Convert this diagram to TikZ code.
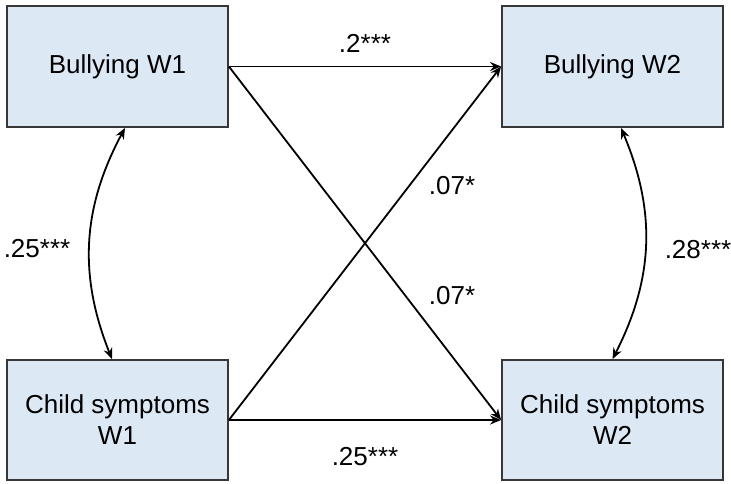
\documentclass[tikz,border=0pt]{standalone}
\usepackage{fontspec}
\setmainfont{Liberation Sans}
\usetikzlibrary{arrows.meta}
\definecolor{boxblue}{RGB}{221,232,245}
\definecolor{boxline}{RGB}{55,55,55}

\begin{document}
\begin{tikzpicture}[x = 1pt, y = -1pt,
  var/.style = {draw = boxline, line width = 1.8pt, fill = boxblue, minimum width = 221pt, minimum height = 121pt, align = center, inner sep = 0pt, font = \fontsize{26}{31}\selectfont},
  coef/.style = {inner sep = 0pt, font = \fontsize{26}{31}\selectfont},
  effect/.style = {line width = 1.8pt, -{Stealth[length = 11pt, width = 9pt]}},
  covar/.style = {line width = 1.8pt, {Stealth[length = 11pt, width = 9pt]}-{Stealth[length = 11pt, width = 9pt]}}]
\useasboundingbox (0, 0) rectangle (731, 483);
\node[var] (bw1) at (117.5, 66.5){Bullying W1};
\node[var] (bw2) at (612.5, 66.5){Bullying W2};
\node[var, minimum height = 120pt] (cs1) at (117.5, 420){Child symptoms\\W1};
\node[var, minimum height = 120pt] (cs2) at (612.5, 420){Child symptoms\\W2};
% cross-lagged and stability paths
\draw[effect] (bw1.east) -- (bw2.west);
\draw[effect] (cs1.east) -- (cs2.west);
\draw[effect] (bw1.east) -- (cs2.west);
\draw[effect] (cs1.east) -- (bw2.west);
% within-wave covariances
\draw[covar] ([xshift = 7.5pt]bw1.south) to [bend right = 25] ([xshift = -5.5pt]cs1.north);
\draw[covar] ([xshift = 8.5pt]bw2.south) to [bend left = 25] (cs2.north);
\node[coef] (c1) at (365, 43){.2***};
\node[coef] (c2) at (452, 186){.07*};
\node[coef] (c3) at (452, 296){.07*};
\node[coef] (c4) at (37, 249){.25***};
\node[coef] (c5) at (698, 250){.28***};
\node[coef] (c6) at (365, 457){.25***};
\end{tikzpicture}
\end{document}
